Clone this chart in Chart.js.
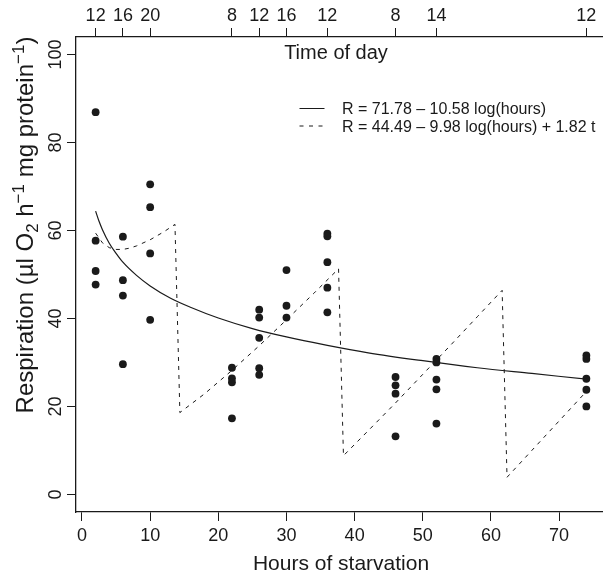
<!DOCTYPE html>
<html>
<head>
<meta charset="utf-8">
<script src="https://cdn.jsdelivr.net/npm/chart.js@4.4.1/dist/chart.umd.min.js"></script>
<style>
  html, body { margin: 0; padding: 0; background: #fff; overflow: hidden; }
  #wrap { width: 612px; height: 577px; }
</style>
</head>
<body>
<div id="wrap"><canvas id="resp-graph" width="612" height="577"></canvas></div>
<script>
// observed respiration, one entry per animal
var hours = [2,2,2,2, 6,6,6,6, 10,10,10,10, 22,22,22,22, 26,26,26,26,26, 30,30,30, 36,36,36,36,36, 46,46,46,46, 52,52,52,52,52, 74,74,74,74,74];
var resp = [86.9,57.7,50.8,47.7, 58.6,48.7,45.2,29.6, 70.5,65.3,54.8,39.7, 28.8,26.4,25.5,17.3, 42.0,40.2,35.6,28.7,27.2, 51.0,42.9,40.2, 59.3,58.7,52.8,47.0,41.4, 26.7,24.8,22.9,13.2, 30.8,30.0,26.1,23.9,16.1, 31.6,30.8,26.3,23.8,20.0];

// solid fitted curve
var fitHours = [2,2.5,3,4,5,6,8,10,13,16,20,25,30,36,42,50,58,66,74];
var fitResp = [64.4,62.1,60.2,57.1,54.8,52.8,49.8,47.4,44.6,42.5,40.1,37.7,35.8,33.9,32.2,30.4,28.8,27.5,26.2];

// dashed curve with the time-of-day term (resets at midnight)
var cycHours = [2,3,4,5,6,7,8,10,12,13.64, 14.36,18,22,26,30,34,37.64, 38.36,42,46,50,54,58,61.64, 62.36,66,70,74];
var cycResp = [59.4,57.2,56.1,55.7,55.7,56.0,56.5,57.9,59.7,61.4, 18.6,22.9,28.2,33.8,39.7,45.7,51.3, 8.8,14.5,20.8,27.3,33.8,40.4,46.4, 3.9,10.0,16.7,23.4];

var bottomTicks = [0,10,20,30,40,50,60,70];
var topTicks = [2,6,10,22,26,30,36,46,52,74];
var topLabels = ['12','16','20','8','12','16','12','8','14','12'];
var leftTicks = [0,20,40,60,80,100];
var seriesNames = ['R = 71.78 \u2013 10.58 log(hours)', 'R = 44.49 \u2013 9.98 log(hours) + 1.82 t'];

var fam = "'Liberation Sans', Arial, Helvetica, sans-serif";
var ink = '#1a1a1a';
Chart.defaults.font.family = fam;
Chart.defaults.color = ink;

function pts(xs, ys) {
	return xs.map(function(x, i) { return {x: x, y: ys[i]}; });
}

function tickGrid() {
	return { display: true, drawOnChartArea: false, drawTicks: true, tickLength: 9, tickWidth: 1, tickColor: ink };
}

// texts R puts around the plot: rotated y labels, titles, legend
var textPlugin = {
	id: 'rtext',
	afterDraw: function(chart) {
		var ctx = chart.ctx, area = chart.chartArea, ys = chart.scales.y;
		ctx.save();
		ctx.fillStyle = ink;

		ctx.font = '18px ' + fam;
		ctx.textAlign = 'center';
		ctx.textBaseline = 'alphabetic';
		leftTicks.forEach(function(v) {
			ctx.save();
			ctx.translate(61, ys.getPixelForValue(v));
			ctx.rotate(-Math.PI / 2);
			ctx.fillText(String(v), 0, 0);
			ctx.restore();
		});

		ctx.font = '21px ' + fam;
		ctx.fillText('Hours of starvation', (area.left + area.right) / 2, 570);
		ctx.font = '20px ' + fam;
		ctx.fillText('Time of day', 336, 59);

		// y title with subscript and superscripts
		var parts = [['Respiration (\u00b5l O', 0], ['2', -1], [' h', 0], ['\u22121', 1], [' mg protein', 0], ['\u22121', 1], [')', 0]];
		var big = '24px ' + fam, small = '17px ' + fam;
		var total = 0;
		parts.forEach(function(p) {
			ctx.font = p[1] === 0 ? big : small;
			p.push(ctx.measureText(p[0]).width);
			total += p[2];
		});
		ctx.save();
		ctx.translate(33, 225);
		ctx.rotate(-Math.PI / 2);
		ctx.textAlign = 'left';
		var cx = -total / 2;
		parts.forEach(function(p) {
			ctx.font = p[1] === 0 ? big : small;
			var dy = p[1] === 1 ? -9 : (p[1] === -1 ? 4.5 : 0);
			ctx.fillText(p[0], cx, dy);
			cx += p[2];
		});
		ctx.restore();

		// legend
		ctx.strokeStyle = ink;
		ctx.lineWidth = 1;
		ctx.beginPath();
		ctx.moveTo(299.5, 108.5);
		ctx.lineTo(324.5, 108.5);
		ctx.stroke();
		ctx.setLineDash([4, 5.5]);
		ctx.beginPath();
		ctx.moveTo(299.5, 126);
		ctx.lineTo(324.5, 126);
		ctx.stroke();
		ctx.setLineDash([]);
		ctx.font = '16px ' + fam;
		ctx.textAlign = 'left';
		ctx.fillText(seriesNames[0], 342, 114.3);
		ctx.fillText(seriesNames[1], 342, 131.7);

		ctx.restore();
	}
};

var respctx = document.getElementById('resp-graph');
var respChart = new Chart(respctx, {
	type: 'scatter',
	data: {
		datasets: [{
			label: 'observed',
			data: pts(hours, resp),
			pointRadius: 3.9,
			pointBackgroundColor: ink,
			pointBorderWidth: 0,
			showLine: false
		}, {
			label: seriesNames[0],
			data: pts(fitHours, fitResp),
			showLine: true,
			borderColor: ink,
			borderWidth: 1.2,
			pointRadius: 0,
			cubicInterpolationMode: 'monotone'
		}, {
			label: seriesNames[1],
			data: pts(cycHours, cycResp),
			showLine: true,
			borderColor: ink,
			borderWidth: 1,
			borderDash: [4, 5],
			pointRadius: 0,
			tension: 0
		}]
	},
	options: {
		responsive: false,
		animation: false,
		devicePixelRatio: 1,
		layout: { padding: { left: 0, right: 6, top: 0, bottom: 0 } },
		plugins: { legend: { display: false }, tooltip: { enabled: false } },
		scales: {
			x: {
				type: 'linear', position: 'bottom', min: -0.88, max: 76.88,
				afterBuildTicks: function(s) { s.ticks = bottomTicks.map(function(v) { return {value: v}; }); },
				afterFit: function(s) { s.height = 65; },
				ticks: { font: { size: 18 }, color: ink, padding: 4, maxRotation: 0, autoSkip: false },
				grid: tickGrid(),
				border: { display: true, color: ink, width: 1.3 }
			},
			x2: {
				type: 'linear', position: 'top', min: -0.88, max: 76.88,
				afterBuildTicks: function(s) { s.ticks = topTicks.map(function(v) { return {value: v}; }); },
				afterFit: function(s) { s.height = 37; },
				ticks: {
					font: { size: 18 }, color: ink, padding: 1, maxRotation: 0, autoSkip: false,
					callback: function(v, i) { return topLabels[i]; }
				},
				grid: tickGrid(),
				border: { display: true, color: ink, width: 1.3 }
			},
			y: {
				type: 'linear', position: 'left', min: -4, max: 104,
				afterBuildTicks: function(s) { s.ticks = leftTicks.map(function(v) { return {value: v}; }); },
				afterFit: function(s) { s.width = 76; },
				ticks: { display: false },
				grid: tickGrid(),
				border: { display: true, color: ink, width: 1.3 }
			}
		}
	},
	plugins: [textPlugin]
});
</script>
</body>
</html>
